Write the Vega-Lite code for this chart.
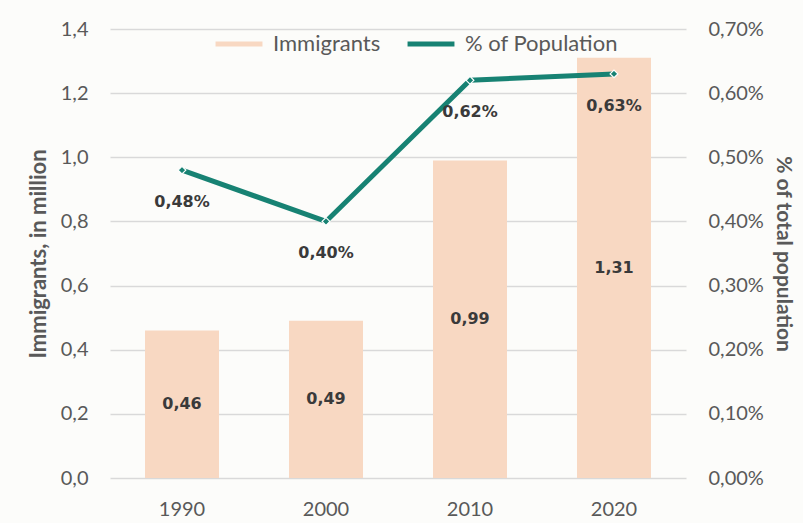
{
  "$schema": "https://vega.github.io/schema/vega-lite/v6.json",
  "autosize": {"type": "none"},
  "padding": {"left": 110, "top": 29, "right": 117, "bottom": 45},
  "width": 576,
  "height": 449,
  "background": "#FCFCFA",
  "data": {
    "values": [
      {"year": "1990", "immigrants": 0.46, "pct": 0.0048},
      {"year": "2000", "immigrants": 0.49, "pct": 0.0040},
      {"year": "2010", "immigrants": 0.99, "pct": 0.0062},
      {"year": "2020", "immigrants": 1.31, "pct": 0.0063}
    ]
  },
  "encoding": {
    "x": {
      "field": "year",
      "type": "nominal",
      "sort": ["1990", "2000", "2010", "2020"],
      "scale": {"type": "band", "paddingInner": 0.486, "paddingOuter": 0.243},
      "axis": {
        "title": null,
        "labelAngle": 0,
        "domain": false,
        "ticks": false,
        "labelPadding": 21,
        "labelFontSize": 20,
        "labelColor": "#595959",
        "labelFont": "Lato"
      }
    }
  },
  "layer": [
    {
      "layer": [
        {
          "mark": {"type": "bar", "color": "#F8D8C2"},
          "encoding": {
            "y": {
              "field": "immigrants",
              "type": "quantitative",
              "scale": {"domain": [0, 1.4]},
              "axis": {
                "title": "Immigrants, in million",
                "values": [0, 0.2, 0.4, 0.6, 0.8, 1.0, 1.2, 1.4],
                "format": ".1f",
                "domain": false,
                "ticks": false,
                "grid": true,
                "gridColor": "#D9D9D9",
                "gridWidth": 1.5,
                "labelPadding": 22,
                "labelFontSize": 20,
                "labelColor": "#595959",
                "labelFont": "Lato",
                "titleFont": "Lato",
                "titleFontSize": 22,
                "titleFontWeight": "bold",
                "titleColor": "#595959",
                "titlePadding": 10
              }
            },
            "color": {
              "datum": "Immigrants",
              "type": "nominal",
              "scale": {
                "domain": ["Immigrants", "% of Population"],
                "range": ["#F8D8C2", "#178273"]
              },
              "legend": {
                "title": null,
                "orient": "none",
                "legendX": 103,
                "legendY": -11,
                "direction": "horizontal",
                "symbolType": "stroke",
                "symbolSize": 2200,
                "symbolStrokeWidth": 5,
                "labelFontSize": 22,
                "labelFont": "Lato",
                "labelColor": "#595959",
                "columnPadding": 16,
                "labelOffset": 8
              }
            }
          }
        },
        {
          "transform": [{"calculate": "datum.immigrants / 2", "as": "mid"}],
          "mark": {
            "type": "text",
            "font": "DejaVu Sans",
            "fontWeight": "bold",
            "fontSize": 16,
            "color": "#3A3A3A",
            "baseline": "middle"
          },
          "encoding": {
            "y": {"field": "mid", "type": "quantitative"},
            "text": {"field": "immigrants", "type": "quantitative", "format": ".2f"}
          }
        }
      ]
    },
    {
      "layer": [
        {
          "mark": {"type": "line", "strokeWidth": 5},
          "encoding": {
            "y": {
              "field": "pct",
              "type": "quantitative",
              "scale": {"domain": [0, 0.007]},
              "axis": {
                "orient": "right",
                "title": "% of total population",
                "values": [0, 0.001, 0.002, 0.003, 0.004, 0.005, 0.006, 0.007],
                "format": ".2%",
                "domain": false,
                "ticks": false,
                "grid": false,
                "labelPadding": 22,
                "labelFontSize": 20,
                "labelColor": "#595959",
                "labelFont": "Lato",
                "titleFont": "Lato",
                "titleFontSize": 21,
                "titleFontWeight": "bold",
                "titleColor": "#595959",
                "titlePadding": 9
              }
            },
            "color": {"datum": "% of Population", "type": "nominal"}
          }
        },
        {
          "mark": {
            "type": "point",
            "shape": "diamond",
            "filled": true,
            "size": 60,
            "fill": "#178273",
            "stroke": "#FFFFFF",
            "strokeWidth": 1.2,
            "opacity": 1
          },
          "encoding": {
            "y": {"field": "pct", "type": "quantitative"}
          }
        },
        {
          "mark": {
            "type": "text",
            "font": "DejaVu Sans",
            "fontWeight": "bold",
            "fontSize": 16,
            "color": "#3A3A3A",
            "baseline": "middle",
            "dy": 32
          },
          "encoding": {
            "y": {"field": "pct", "type": "quantitative"},
            "text": {"field": "pct", "type": "quantitative", "format": ".2%"}
          }
        }
      ]
    }
  ],
  "resolve": {"scale": {"y": "independent"}},
  "config": {
    "view": {"stroke": null},
    "locale": {
      "number": {
        "decimal": ",",
        "thousands": ".",
        "grouping": [3],
        "currency": ["", " €"]
      }
    }
  }
}
